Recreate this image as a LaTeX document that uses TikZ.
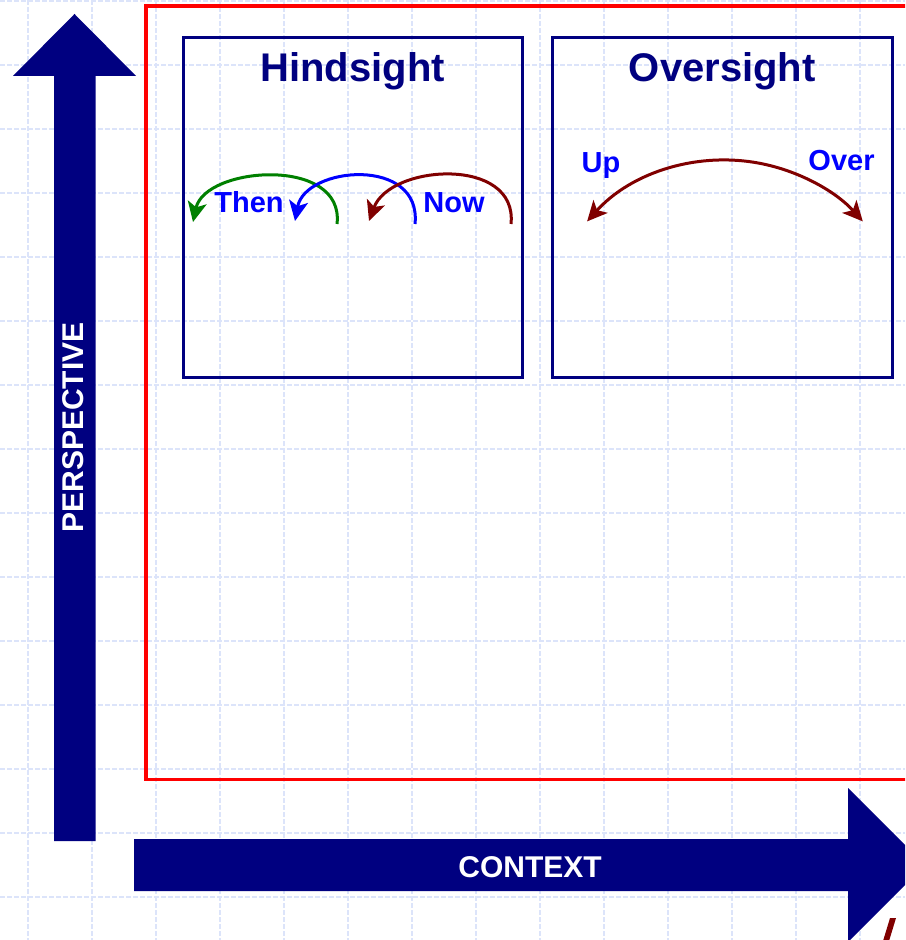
\documentclass[tikz,border=0pt]{standalone}
\usepackage{fontspec}
\setmainfont{Liberation Sans}
\usetikzlibrary{arrows.meta}
\definecolor{navy}{RGB}{0,0,128}
\definecolor{darkred}{RGB}{128,0,0}
\definecolor{leafgreen}{RGB}{0,128,0}
\definecolor{tagblue}{RGB}{0,0,255}
\definecolor{gridblue}{RGB}{220,228,250}
\tikzstyle{gridline} = [draw=gridblue, line width=0.9pt, dash pattern=on 2.5pt off 1pt]
\tikzstyle{panel} = [rectangle, draw=navy, line width=1.5pt, inner sep=0pt,
                     minimum width=169.75pt, minimum height=169.75pt]
\tikzstyle{title} = [font=\bfseries\fontsize{20}{24}\selectfont, text=navy, inner sep=0pt]
\tikzstyle{tag} = [font=\bfseries\fontsize{14.5}{17}\selectfont, text=tagblue, inner sep=0pt]
\tikzstyle{axislabel} = [font=\bfseries\fontsize{15}{18}\selectfont, text=white, inner sep=0pt]
\tikzstyle{swing} = [line width=1.5pt, >={Stealth[length=10pt,width=9.5pt,inset=2.5pt]}]

\begin{document}
\begin{tikzpicture}[x=0.5pt,y=-0.5pt]
 \useasboundingbox (0,0) rectangle (905,940);
 \clip (0,0) rectangle (905,940);
 \foreach \x in {28,92,...,860} \draw [gridline] (\x,0) -- (\x,940);
 \foreach \y in {1,65,...,897} \draw [gridline] (0,\y) -- (905,\y);
 \draw [red, line width=1.75pt] (146,6) rectangle (980,779.5);
 \fill [navy] (54,841) -- (54,76) -- (13,76) -- (74.5,14) -- (136,76) -- (95.5,76)
              -- (95.5,841) -- cycle;
 \fill [navy] (134,839) -- (848,839) -- (848,788) -- (925,865) -- (848,942)
              -- (848,891) -- (134,891) -- cycle;
 \fill [darkred] (890,918) -- (896,918) -- (889,941) -- (883,941) -- cycle;
 \node (PE) [axislabel, rotate=90, anchor=base] at (83,427.5) {PERSPECTIVE};
 \node (CO) [axislabel, anchor=base] at (530,877) {CONTEXT};
 \node (HS) [panel] at (352.75,207.25) {};
 \node (OS) [panel] at (722.25,207.25) {};
 \node (HT) [title, anchor=base] at (352.75,82) {Hindsight};
 \node (OT) [title, anchor=base] at (722.25,82) {Oversight};
 \node (TH) [tag, anchor=base] at (249,213) {Then};
 \node (NO) [tag, anchor=base] at (454,213) {Now};
 \node (UP) [tag, anchor=base] at (601,173) {Up};
 \node (OV) [tag, anchor=base] at (841.5,171) {Over};
 \coordinate (G1) at (337,224);
 \coordinate (G2) at (193,222);
 \coordinate (B1) at (415,224);
 \coordinate (B2) at (295,221);
 \coordinate (R1) at (511,224);
 \coordinate (R2) at (369,221);
 \coordinate (U1) at (587.1,221.4);
 \draw [swing,->,leafgreen] (G1) .. controls (345,156) and (205,166) .. (G2);
 \draw [swing,->,tagblue] (B1) .. controls (422,156) and (305,166) .. (B2);
 \draw [swing,->,darkred] (R1) .. controls (518,156) and (390,164) .. (R2);
 \draw [swing,<->,darkred] (U1) arc [start angle=-138, end angle=-42, radius=185.5];
\end{tikzpicture}
\end{document}
